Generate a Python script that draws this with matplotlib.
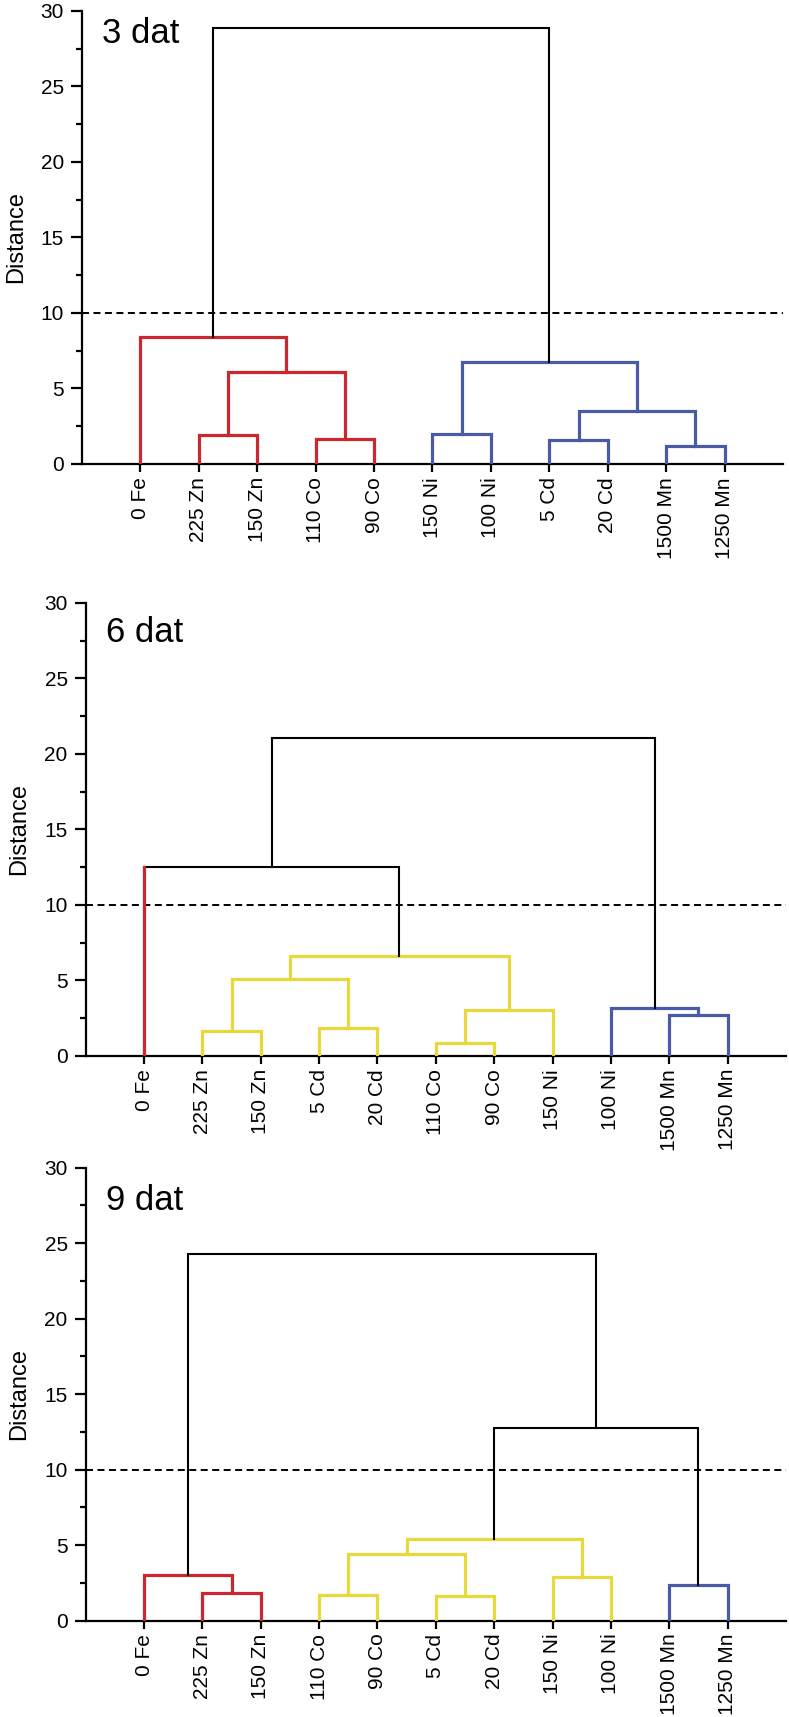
import matplotlib
matplotlib.use("Agg")
import matplotlib.pyplot as plt
from matplotlib.ticker import MultipleLocator

plt.rcParams['font.family'] = ['Liberation Sans', 'DejaVu Sans']

RED = '#C8282E'
BLUE = '#4A5BA6'
YEL = '#E8D83C'
BLK = 'black'

# ---- 3 dat ----
leaves_3 = ['0 Fe', '225 Zn', '150 Zn', '110 Co', '90 Co', '150 Ni', '100 Ni',
            '5 Cd', '20 Cd', '1500 Mn', '1250 Mn']
leaf_col_3 = [RED] * 5 + [BLUE] * 6
# merges: (left, right, height, colour); ids >= n refer to earlier merges
merges_3 = [(1, 2, 1.92, RED), (3, 4, 1.66, RED), (11, 12, 6.11, RED),
            (0, 13, 8.43, RED), (5, 6, 1.99, BLUE), (7, 8, 1.59, BLUE),
            (9, 10, 1.21, BLUE), (16, 17, 3.51, BLUE), (15, 18, 6.78, BLUE),
            (14, 19, 28.9, BLK)]

# ---- 6 dat ----
leaves_6 = ['0 Fe', '225 Zn', '150 Zn', '5 Cd', '20 Cd', '110 Co', '90 Co',
            '150 Ni', '100 Ni', '1500 Mn', '1250 Mn']
leaf_col_6 = [RED] + [YEL] * 7 + [BLUE] * 3
merges_6 = [(1, 2, 1.64, YEL), (3, 4, 1.85, YEL), (11, 12, 5.06, YEL),
            (5, 6, 0.84, YEL), (14, 7, 3.01, YEL), (13, 15, 6.62, YEL),
            (0, 16, 12.48, BLK), (9, 10, 2.72, BLUE), (8, 18, 3.17, BLUE),
            (17, 19, 21.06, BLK)]

# ---- 9 dat ----
leaves_9 = ['0 Fe', '225 Zn', '150 Zn', '110 Co', '90 Co', '5 Cd', '20 Cd',
            '150 Ni', '100 Ni', '1500 Mn', '1250 Mn']
leaf_col_9 = [RED] * 3 + [YEL] * 6 + [BLUE] * 2
merges_9 = [(1, 2, 1.85, RED), (0, 11, 3.03, RED), (3, 4, 1.72, YEL),
            (5, 6, 1.59, YEL), (13, 14, 4.38, YEL), (7, 8, 2.89, YEL),
            (15, 16, 5.42, YEL), (9, 10, 2.35, BLUE), (17, 18, 12.77, BLK),
            (12, 19, 24.27, BLK)]

panels = [
    ('3 dat', leaves_3, leaf_col_3, merges_3, [0.1039, 0.7298, 0.8885, 0.2638], 0.929),
    ('6 dat', leaves_6, leaf_col_6, merges_6, [0.1086, 0.3851, 0.8876, 0.2638], 0.914),
    ('9 dat', leaves_9, leaf_col_9, merges_9, [0.1086, 0.0562, 0.8876, 0.2638], 0.906),
]

fig = plt.figure(figsize=(7.89, 17.17), dpi=100)

for title, leaves, leaf_col, merges, rect, ty in panels:
    ax = fig.add_axes(rect)
    n = len(leaves)
    xs = {i: i + 1 for i in range(n)}
    hs = {i: 0.0 for i in range(n)}
    for k, (a, b, h, c) in enumerate(merges):
        lw = 1.5 if c == BLK else 2.3
        ax.plot([xs[a], xs[a], xs[b], xs[b]], [hs[a], h, h, hs[b]],
                color=c, lw=lw, zorder=3, solid_joinstyle='miter')
        for ch in (a, b):
            if ch < n and leaf_col[ch] != c:
                ax.plot([xs[ch], xs[ch]], [0, h], color=leaf_col[ch], lw=2.3, zorder=4)
        xs[n + k] = (xs[a] + xs[b]) / 2
        hs[n + k] = h

    ax.axhline(10, color='black', lw=1.4, ls=(0, (3.6, 2.3)), zorder=2)

    ax.set_xlim(0, 12)
    ax.set_ylim(0, 30)
    ax.set_xticks(range(1, n + 1))
    ax.set_xticklabels(leaves, rotation=90, fontsize=15)
    ax.yaxis.set_major_locator(MultipleLocator(5))
    ax.yaxis.set_minor_locator(MultipleLocator(2.5))
    ax.tick_params(axis='y', which='major', length=8, width=1.6, labelsize=15, pad=5)
    ax.tick_params(axis='y', which='minor', length=4.5, width=1.6)
    ax.tick_params(axis='x', length=6, width=1.6, pad=3.5)
    for s in ['top', 'right']:
        ax.spines[s].set_visible(False)
    for s in ['left', 'bottom']:
        ax.spines[s].set_linewidth(1.6)
    ax.set_ylabel('Distance', fontsize=17, labelpad=10)
    ax.text(0.029, ty, title, transform=ax.transAxes, fontsize=25, va='baseline')

fig.savefig('out.png', dpi=100)
